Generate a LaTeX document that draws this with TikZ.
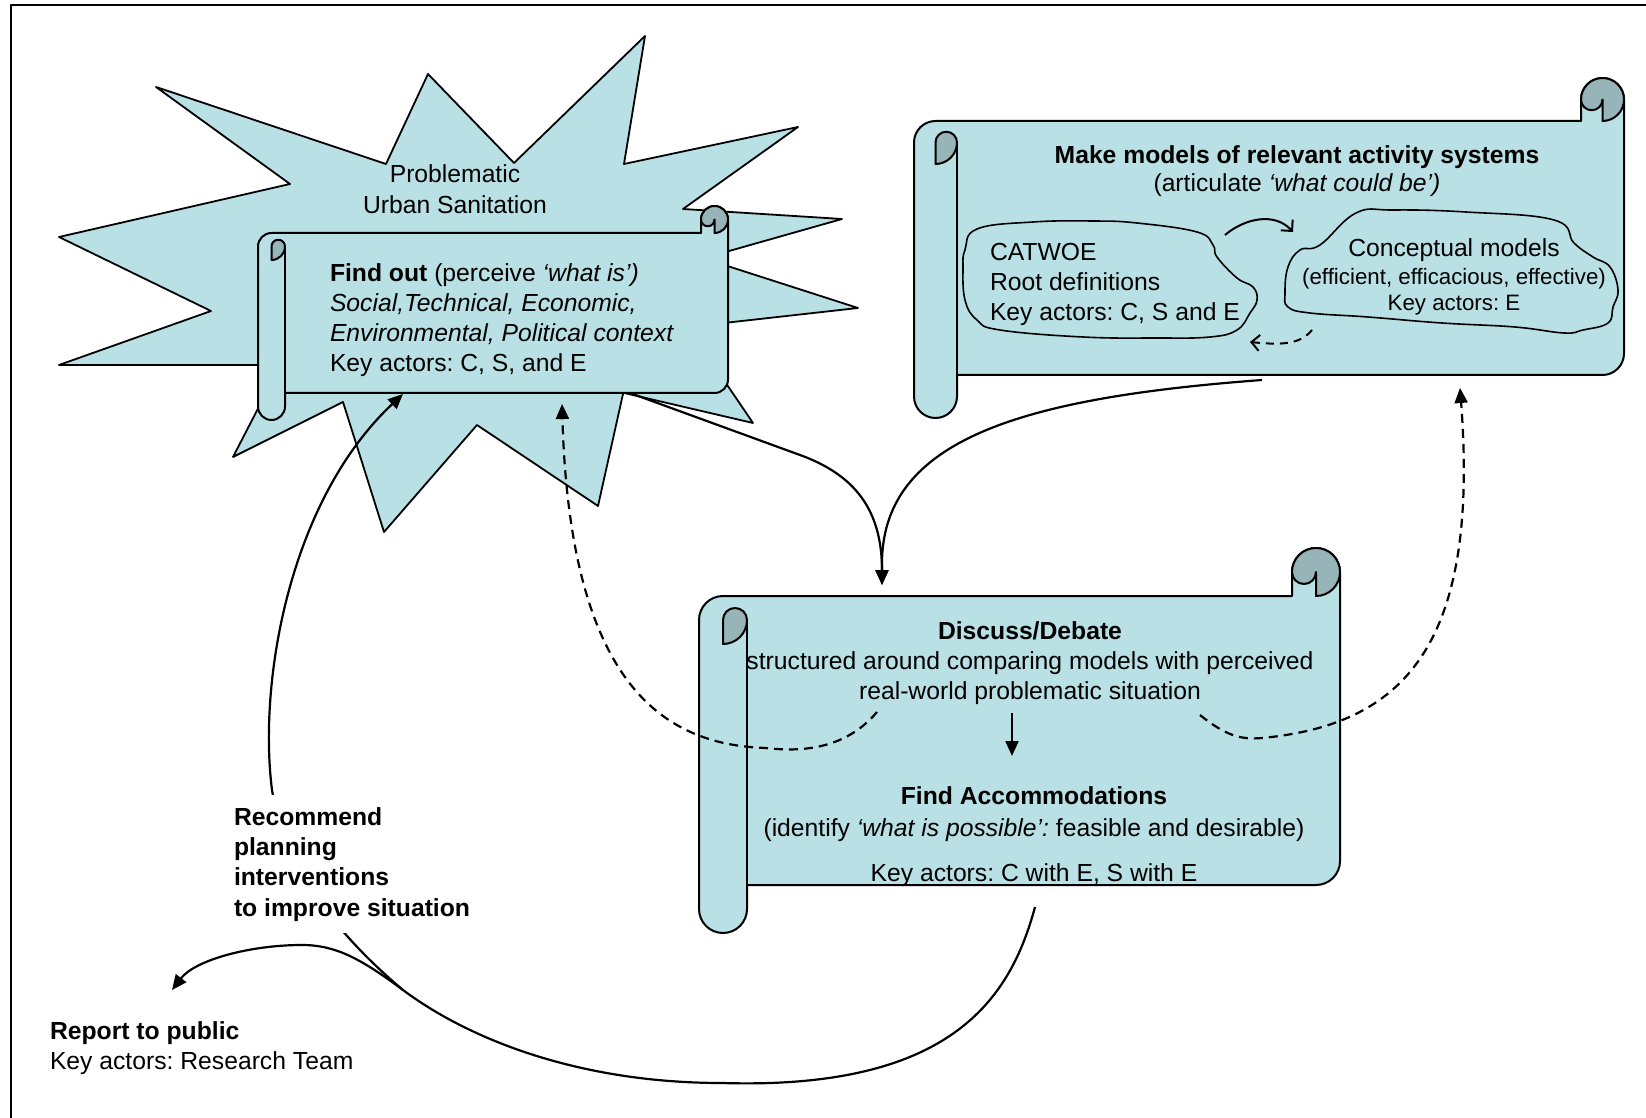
\documentclass[tikz,border=0pt]{standalone}
\usepackage{xcolor}
\usepackage{fontspec}
\setmainfont{Liberation Sans}
\usepackage{tikz}
\usetikzlibrary{arrows.meta,calc}
\frenchspacing

\definecolor{scrollfill}{HTML}{B9E0E4}
\definecolor{rollfill}{HTML}{97B5B8}

\newcommand{\scrollshape}[5]{%
  \draw[fill=scrollfill] (#3,#2+#5/2) -- (#3,#4-1.5*#5) arc[start angle=0,end angle=90,radius=#5/2]
    -- (#1+#5,#4-#5) -- (#1+#5,#4-#5/2) arc[start angle=0,end angle=180,radius=#5/2]
    -- (#1,#2+1.5*#5) arc[start angle=180,end angle=270,radius=#5/2]
    -- (#3-#5,#2+#5) -- (#3-#5,#2+#5/2) arc[start angle=180,end angle=360,radius=#5/2] -- cycle;
  \draw[fill=rollfill] (#3-#5/2,#2+#5) arc[start angle=90,end angle=-180,radius=#5/2]
    arc[start angle=180,end angle=0,radius=#5/4] -- cycle;
  \draw[fill=rollfill] (#1+#5/2,#2+2*#5) arc[start angle=90,end angle=0,radius=#5/2]
    arc[start angle=0,end angle=-180,radius=#5/4] -- cycle;
  \draw (#1+#5,#2+1.5*#5) -- (#1+#5,#4-#5);
}

\begin{document}
\begin{tikzpicture}[x=0.5pt, y=-0.5pt, line width=1pt, line join=round,
  txt/.style={inner sep=0pt, font=\fontsize{12.35pt}{#1}\selectfont}, txt/.default=15pt,
  boldtxt/.style={inner sep=0pt, font=\fontsize{12.35pt}{#1}\selectfont\bfseries}, boldtxt/.default=15pt,
  cloud line/.style={line width=0.8pt},
  arr/.style={line width=1.1pt, -{Triangle[length=7.5pt,width=6.5pt]}},
  dash arr/.style={arr, dash pattern=on 4.5pt off 3pt},
  barb/.style={line width=1pt, -{Straight Barb[length=4pt,width=8pt]}}]
\useasboundingbox (0,0) rectangle (1646,1118);
\draw (10.5,1118) -- (10.5,5.5) -- (1646,5.5);

\draw[fill=scrollfill, line width=0.9pt] (59,237) -- (290,184) -- (156,87) -- (386,164) -- (428,74) -- (514,163) -- (645,36) -- (624,164) -- (798,127) -- (683,209) -- (842,219) -- (715,255) -- (715,262) -- (858,308) -- (715,324) -- (715,367) -- (753,423) -- (590,385) -- (625,385) -- (598,506) -- (477,425) -- (384,532) -- (343,402) -- (233,457) -- (265,395) -- (270,365) -- (59,365) -- (211,311) -- cycle;
\node[txt=15.5pt, anchor=base, align=center] (Problem) at (455,214) {Problematic\\Urban Sanitation};

\scrollshape{258}{206}{728}{420}{27}
\scrollshape{914}{78}{1624}{418}{43}
\scrollshape{699}{548}{1340}{933}{48}

\draw[cloud line] plot[smooth cycle, tension=0.7] coordinates {(965,250) (977,229) (1033,222) (1093,221) (1137,223) (1197,232) (1213,245) (1217,257) (1237,278) (1253,287) (1257,300) (1250,313) (1237,330) (1210,337) (1157,338) (1083,337) (1000,330) (977,320) (965,300) (963,267)};
\draw[cloud line] plot[smooth cycle, tension=0.7] coordinates {(1285,293) (1288,267) (1300,250) (1320,245) (1356,213) (1393,210) (1466,212) (1554,220) (1574,243) (1593,257) (1610,267) (1618,290) (1613,307) (1608,323) (1583,330) (1564,333) (1515,327) (1442,323) (1368,317) (1310,313) (1288,307)};

\node[txt, anchor=base west, align=left] (FindOut) at (329,372) {\textbf{Find out} (perceive \textit{‘what is’)}\\\textit{Social,Technical, Economic,}\\\textit{Environmental, Political context}\\Key actors: C, S, and E};
\node[txt=14pt, anchor=base, align=center] (Models) at (1297,192) {\textbf{Make models of relevant activity systems}\\(articulate \textit{‘what could be’)}};
\node[txt, anchor=base west, align=left] (Catwoe) at (989,321) {CATWOE\\Root definitions\\Key actors: C, S and E};
\node[txt=14pt, anchor=base, align=center] (Concept) at (1454,311) {Conceptual models\\{\fontsize{11.15pt}{13pt}\selectfont (efficient, efficacious, effective)}\\[-1pt]{\fontsize{11.15pt}{13pt}\selectfont Key actors: E}};
\node[txt, anchor=base, align=center] (Debate) at (1030,699) {\textbf{Discuss/Debate}\\structured around comparing models with perceived\\real-world problematic situation};
\node[txt, anchor=base, align=center] (Accommodate) at (1034,881) {\textbf{Find Accommodations}\\[1pt](identify \textit{‘what is possible’:} feasible and desirable)\\[7.5pt]Key actors: C with E, S with E};
\node[txt, anchor=base west, align=left] (Report) at (49,1069) {\textbf{Report to public}\\Key actors: Research Team};

\coordinate (FindOutOut) at (630,393);
\coordinate (ModelsOut) at (1262,380);
\coordinate (DebateIn) at (882,585);
\coordinate (CatwoeOut) at (1225,235);
\coordinate (ConceptIn) at (1293,232);
\coordinate (ConceptOut) at (1312,330);
\coordinate (CatwoeIn) at (1250,342);
\coordinate (DebateDown) at (1012,713);
\coordinate (AccommodateIn) at (1012,756);
\coordinate (DebateLeft) at (877,712);
\coordinate (FindOutIn) at (562,404);
\coordinate (DebateRight) at (1200,715);
\coordinate (ModelsIn) at (1460,388);
\coordinate (DebateOut) at (1035,907);
\coordinate (Merge) at (403,990);
\coordinate (FindOutBack) at (403,394);
\coordinate (ReportIn) at (172,990);

\draw[arr] (FindOutOut) -- (800,455) .. controls (855,475) and (882,510) .. (DebateIn);
\draw[arr] (ModelsOut) .. controls (1020,398) and (885,440) .. (882,560) -- (DebateIn);
\draw[barb] (CatwoeOut) .. controls (1245,218) and (1275,212) .. (ConceptIn);
\draw[barb, dash pattern=on 4pt off 3pt] (ConceptOut) .. controls (1300,345) and (1280,345) .. (CatwoeIn);
\draw[arr] (DebateDown) -- (AccommodateIn);
\draw[dash arr] (DebateLeft) .. controls (845,750) and (800,752) .. (766,748) .. controls (660,745) and (570,680) .. (FindOutIn);
\draw[dash arr] (DebateRight) .. controls (1225,735) and (1240,740) .. (1262,738) .. controls (1400,725) and (1480,650) .. (ModelsIn);
\draw[arr] (DebateOut) .. controls (1010,1000) and (950,1090) .. (722,1083) .. controls (580,1083) and (470,1040) .. (Merge) .. controls (360,958) and (335,945) .. (302,945) .. controls (250,945) and (195,960) .. (ReportIn);
\draw[arr] (Merge) .. controls (340,937) and (285,870) .. (272,790) .. controls (258,680) and (290,500) .. (FindOutBack);

\node[boldtxt=15.15pt, anchor=base west, align=left, fill=white, inner xsep=1pt, inner ysep=6pt] (Recommend) at (231,916) {Recommend\\planning\\interventions\\to improve situation};
\end{tikzpicture}
\end{document}
